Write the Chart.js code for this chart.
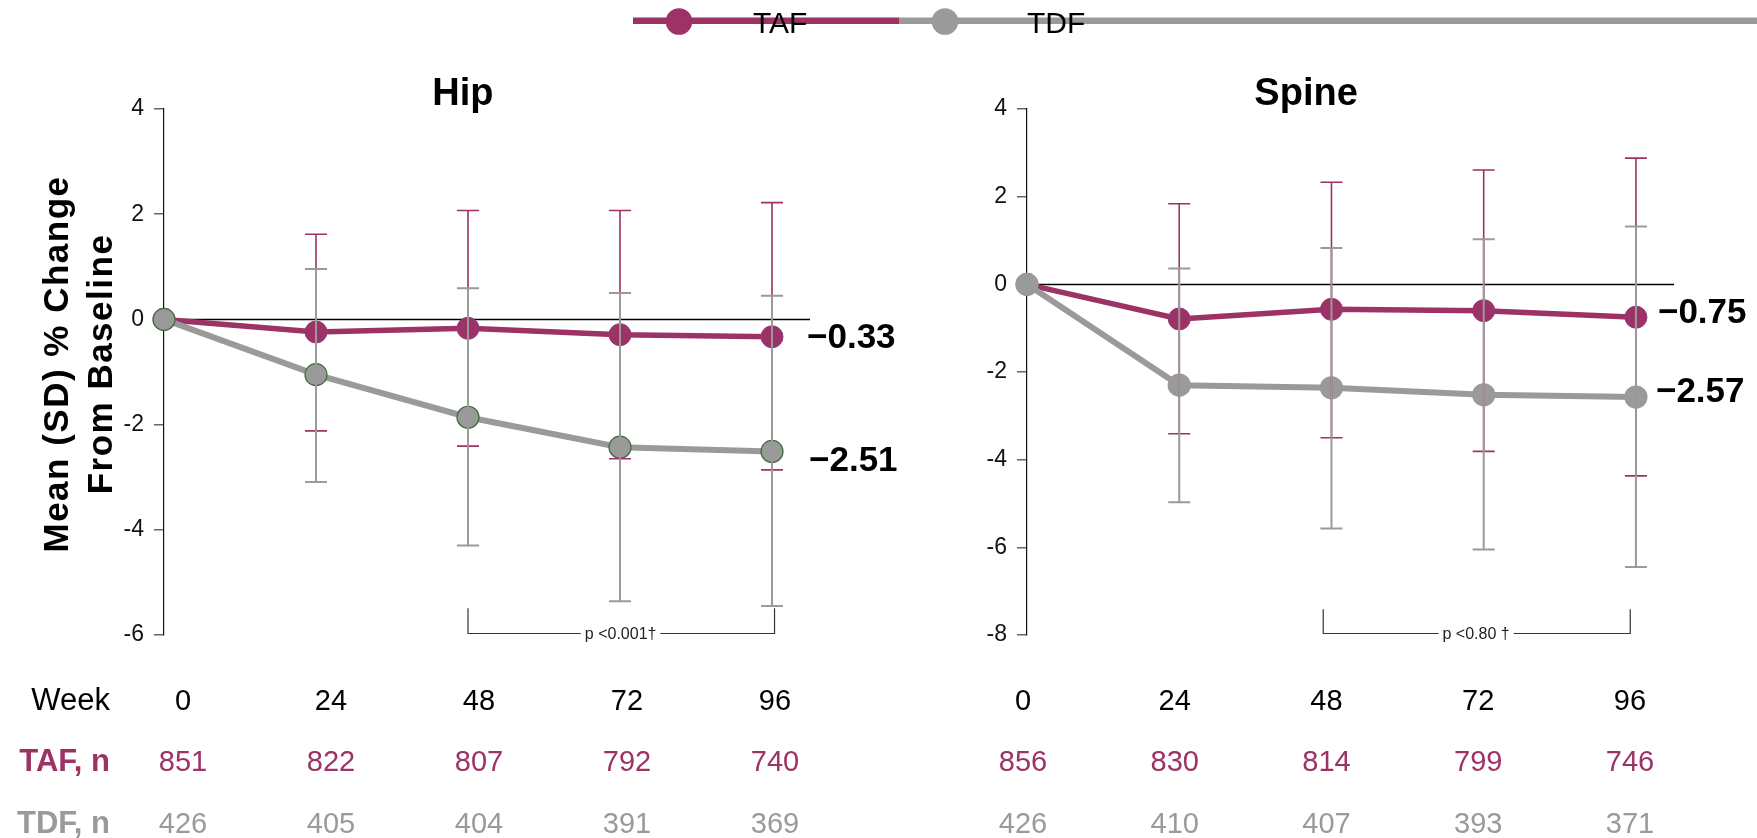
<!DOCTYPE html>
<html>
<head>
<meta charset="utf-8">
<script src="https://cdn.jsdelivr.net/npm/chart.js@4.4.1/dist/chart.umd.min.js"></script>
<style>
  html, body { margin: 0; padding: 0; background: #fff; }
  #wrap { position: relative; width: 1757px; height: 838px; }
  canvas { position: absolute; left: 0; top: 0; }
</style>
</head>
<body>
<div id="wrap">
  <canvas id="hip" width="1757" height="838"></canvas>
  <canvas id="spine" width="1757" height="838"></canvas>
</div>
<script>
// BMD change, hip and spine panels

// Data
const weeks = [0, 24, 48, 72, 96];

const hipTaf   = [0, -0.24, -0.17, -0.29, -0.33];
const hipTafHi = [null, 1.62, 2.07, 2.07, 2.22];
const hipTafLo = [null, -2.12, -2.41, -2.65, -2.86];
const hipTdf   = [0, -1.05, -1.86, -2.43, -2.51];
const hipTdfHi = [null, 0.96, 0.59, 0.50, 0.45];
const hipTdfLo = [null, -3.09, -4.30, -5.36, -5.45];

const spineTaf   = [0, -0.79, -0.57, -0.60, -0.75];
const spineTafHi = [null, 1.84, 2.33, 2.61, 2.88];
const spineTafLo = [null, -3.41, -3.50, -3.81, -4.37];
const spineTdf   = [0, -2.30, -2.36, -2.52, -2.57];
const spineTdfHi = [null, 0.36, 0.83, 1.03, 1.32];
const spineTdfLo = [null, -4.97, -5.57, -6.05, -6.45];

const hipTafN   = [851, 822, 807, 792, 740];
const hipTdfN   = [426, 405, 404, 391, 369];
const spineTafN = [856, 830, 814, 799, 746];
const spineTdfN = [426, 410, 407, 393, 371];

const hipTicks   = [4, 2, 0, -2, -4, -6];
const spineTicks = [4, 2, 0, -2, -4, -6, -8];

const MAGENTA = '#9c3265';
const GRAY = '#9a9a9a';
const FONT = "'Liberation Sans', Arial, Helvetica, sans-serif";

const pts = ys => weeks.map((w, i) => ({ x: w, y: ys[i] }));

// error bars with caps
function drawBars(ctx, x, y, hi, lo, color, lw){
  ctx.strokeStyle = color;
  ctx.lineWidth = lw;
  weeks.forEach((w, i) => {
    if(hi[i] == null) return;
    const px = x.getPixelForValue(w);
    const top = y.getPixelForValue(hi[i]);
    const bot = y.getPixelForValue(lo[i]);
    ctx.beginPath();
    ctx.moveTo(px, top); ctx.lineTo(px, bot);
    ctx.moveTo(px - 11, top); ctx.lineTo(px + 11, top);
    ctx.moveTo(px - 11, bot); ctx.lineTo(px + 11, bot);
    ctx.stroke();
  });
}

function drawLegend(ctx){
  ctx.lineWidth = 6.5;
  ctx.strokeStyle = GRAY;
  ctx.beginPath(); ctx.moveTo(899, 20.7); ctx.lineTo(1757, 20.7); ctx.stroke();
  ctx.strokeStyle = MAGENTA;
  ctx.beginPath(); ctx.moveTo(633, 20.7); ctx.lineTo(899, 20.7); ctx.stroke();
  ctx.fillStyle = MAGENTA;
  ctx.beginPath(); ctx.arc(679, 21.5, 13.3, 0, Math.PI * 2); ctx.fill();
  ctx.fillStyle = GRAY;
  ctx.beginPath(); ctx.arc(945, 21.5, 13.3, 0, Math.PI * 2); ctx.fill();
  ctx.fillStyle = '#000';
  ctx.font = `30px ${FONT}`;
  ctx.textAlign = 'left';
  ctx.textBaseline = 'alphabetic';
  ctx.fillText('TAF', 753, 33);
  ctx.fillText('TDF', 1027, 33);
}

const extras = {
  id: 'extras',
  beforeDatasetsDraw(chart){
    const { ctx, chartArea: a, scales: { y } } = chart;
    const y0 = Math.round(y.getPixelForValue(0)) + 0.5;
    ctx.save();
    ctx.strokeStyle = '#000';
    ctx.lineWidth = 1.6;
    ctx.beginPath(); ctx.moveTo(a.left, y0); ctx.lineTo(a.right, y0); ctx.stroke();
    ctx.restore();
  },
  afterDatasetsDraw(chart){
    const o = chart.options.plugins.extras;
    const { ctx, scales: { x, y } } = chart;
    ctx.save();

    drawBars(ctx, x, y, o.tafHi, o.tafLo, MAGENTA, 1.6);
    drawBars(ctx, x, y, o.tdfHi, o.tdfLo, GRAY, 2);

    // values at week 96
    ctx.fillStyle = '#000';
    ctx.font = `bold 35px ${FONT}`;
    ctx.textAlign = 'left';
    ctx.textBaseline = 'middle';
    o.endLabels.forEach(l => {
      ctx.fillText(l.text, x.getPixelForValue(96) + l.dx, y.getPixelForValue(l.v) + l.dy);
    });

    // p-value bracket
    const b = o.bracket;
    const bx0 = x.getPixelForValue(b.from), bx1 = x.getPixelForValue(b.to);
    const byT = y.getPixelForValue(b.top), byB = Math.round(y.getPixelForValue(b.bottom)) + 0.5;
    ctx.strokeStyle = '#333';
    ctx.lineWidth = 1.2;
    ctx.beginPath();
    ctx.moveTo(bx0, byT); ctx.lineTo(bx0, byB); ctx.lineTo(bx1, byB); ctx.lineTo(bx1, byT);
    ctx.stroke();
    ctx.font = `16px ${FONT}`;
    const tx = x.getPixelForValue(b.textAt);
    const tw = ctx.measureText(b.text).width;
    ctx.fillStyle = '#fff';
    ctx.fillRect(tx - tw / 2 - 4, byB - 4, tw + 8, 8);
    ctx.fillStyle = '#222';
    ctx.textAlign = 'center';
    ctx.fillText(b.text, tx, byB + 1);

    // panel title
    ctx.fillStyle = '#000';
    ctx.font = `bold 38px ${FONT}`;
    ctx.textBaseline = 'alphabetic';
    ctx.fillText(o.title, x.getPixelForValue(o.titleAt), 105);

    // n table under the panel
    const rows = [
      { vals: weeks, color: '#000', base: 710, label: 'Week', bold: false },
      { vals: o.tafN, color: MAGENTA, base: 771, label: 'TAF, n', bold: true },
      { vals: o.tdfN, color: GRAY, base: 833, label: 'TDF, n', bold: true }
    ];
    rows.forEach(r => {
      ctx.fillStyle = r.color;
      ctx.font = `29px ${FONT}`;
      ctx.textAlign = 'center';
      r.vals.forEach((v, i) => {
        const shift = o.tblShift[0] + (o.tblShift[1] - o.tblShift[0]) * weeks[i] / 96;
        ctx.fillText(String(v), x.getPixelForValue(weeks[i]) + shift, r.base);
      });
      if(o.rowLabels){
        ctx.font = `${r.bold ? 'bold ' : ''}31px ${FONT}`;
        ctx.textAlign = 'right';
        ctx.fillText(r.label, 110, r.base);
      }
    });

    // y axis title
    if(o.yTitle){
      ctx.save();
      ctx.translate(80, 364);
      ctx.rotate(-Math.PI / 2);
      ctx.fillStyle = '#000';
      ctx.font = `bold 35px ${FONT}`;
      ctx.letterSpacing = '1.5px';
      ctx.textAlign = 'center';
      ctx.textBaseline = 'middle';
      ctx.fillText('Mean (SD) % Change', 0, -22);
      ctx.fillText('From Baseline', 0, 22);
      ctx.restore();
    }

    if(o.legend) drawLegend(ctx);
    ctx.restore();
  }
};

function makePanel(id, p){
  return new Chart(document.getElementById(id), {
    type: 'line',
    data: {
      datasets: [
        {
          label: 'TDF', data: pts(p.tdf), borderColor: GRAY, borderWidth: 6,
          pointRadius: 11, pointBackgroundColor: GRAY,
          pointBorderColor: p.tdfEdge, pointBorderWidth: 1.2, tension: 0, clip: false
        },
        {
          label: 'TAF', data: pts(p.taf), borderColor: MAGENTA, borderWidth: 5.5,
          pointRadius: 11, pointBackgroundColor: MAGENTA,
          pointBorderColor: '#8f3a80', pointBorderWidth: 1, tension: 0, clip: false
        }
      ]
    },
    options: {
      responsive: false,
      animation: false,
      events: [],
      layout: { padding: p.padding },
      scales: {
        x: { type: 'linear', min: 0, max: 102, display: false },
        y: {
          min: p.ticks[p.ticks.length - 1], max: p.ticks[0],
          afterFit: s => { s.width = 60; },
          afterBuildTicks: s => { s.ticks = p.ticks.map(v => ({ value: v })); },
          ticks: { color: '#111', padding: 10, font: { family: FONT, size: 23 } },
          grid: { drawOnChartArea: false, drawTicks: true, tickLength: 10, color: '#666', lineWidth: 1.5 },
          border: { display: true, color: '#111', width: 1.2 }
        }
      },
      plugins: {
        legend: { display: false },
        tooltip: { enabled: false },
        extras: p.extras
      }
    },
    plugins: [extras]
  });
}

makePanel('hip', {
  taf: hipTaf, tdf: hipTdf, ticks: hipTicks, tdfEdge: '#3f6e3a',
  padding: { left: 104, right: 947, top: 109, bottom: 203 },
  extras: {
    title: 'Hip', titleAt: 47.2,
    tafHi: hipTafHi, tafLo: hipTafLo, tdfHi: hipTdfHi, tdfLo: hipTdfLo,
    tafN: hipTafN, tdfN: hipTdfN, tblShift: [19, 3], rowLabels: true, yTitle: true,
    endLabels: [
      { text: '\u22120.33', v: hipTaf[4], dx: 35, dy: 2 },
      { text: '\u22122.51', v: hipTdf[4], dx: 37, dy: 10 }
    ],
    bracket: { from: 48, to: 96.4, top: -5.49, bottom: -5.96, textAt: 72.1, text: 'p <0.001\u2020' }
  }
});

makePanel('spine', {
  taf: spineTaf, tdf: spineTdf, ticks: spineTicks, tdfEdge: GRAY,
  padding: { left: 967, right: 83, top: 109, bottom: 203 },
  extras: {
    title: 'Spine', titleAt: 44,
    tafHi: spineTafHi, tafLo: spineTafLo, tdfHi: spineTdfHi, tdfLo: spineTdfLo,
    tafN: spineTafN, tdfN: spineTdfN, tblShift: [-4, -6], rowLabels: false, yTitle: false,
    legend: true,
    endLabels: [
      { text: '\u22120.75', v: spineTaf[4], dx: 22, dy: -4 },
      { text: '\u22122.57', v: spineTdf[4], dx: 20, dy: -5 }
    ],
    bracket: { from: 46.7, to: 95.1, top: -7.41, bottom: -7.95, textAt: 70.8, text: 'p <0.80 \u2020' }
  }
});
</script>
</body>
</html>
